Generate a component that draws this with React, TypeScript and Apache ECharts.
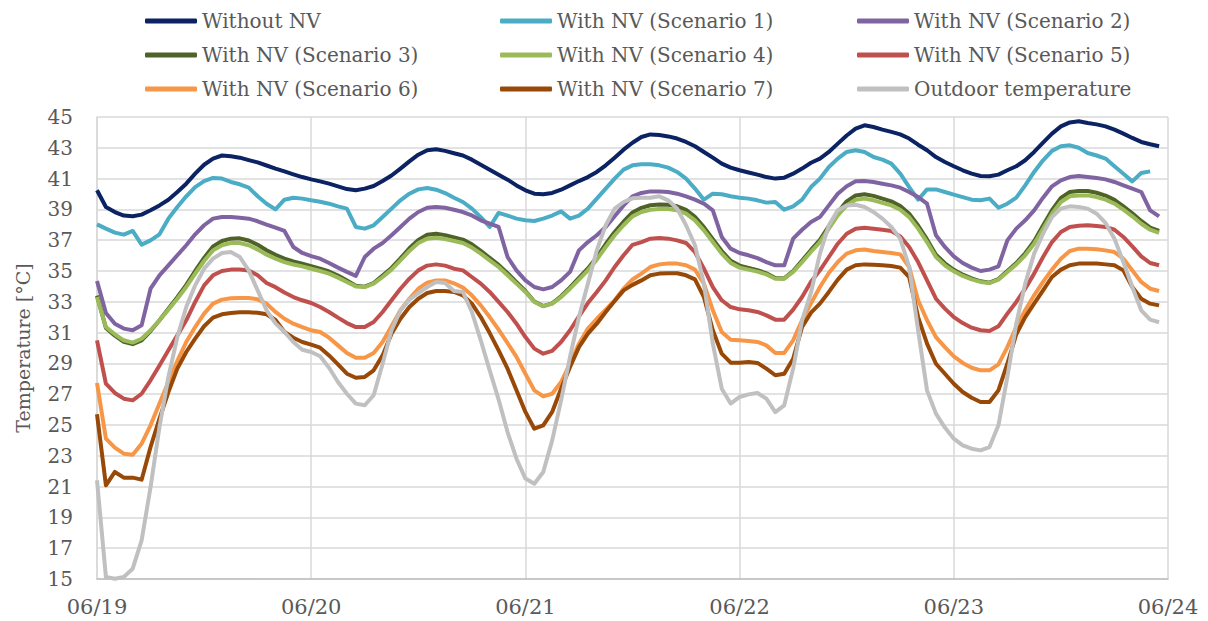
import React, { useEffect, useRef } from "react";
import * as echarts from "echarts";

const dayLabels = ["06/19", "06/20", "06/21", "06/22", "06/23", "06/24"];
const yTicks = { min: 15, max: 45, step: 2 };

const withoutNV = [
  40.24, 39.16, 38.83, 38.6, 38.55, 38.66, 38.94, 39.26, 39.63, 40.13, 40.67, 41.32, 41.9, 42.3, 42.5, 42.45, 42.36, 42.2, 42.05, 41.85, 41.65,
  41.47, 41.28, 41.1, 40.95, 40.82, 40.67, 40.5, 40.32, 40.24, 40.35, 40.52, 40.84, 41.2, 41.65, 42.12, 42.55, 42.84, 42.9, 42.8, 42.65,
  42.5, 42.23, 41.9, 41.58, 41.25, 40.93, 40.56, 40.24, 40.02, 39.98, 40.07, 40.28, 40.56, 40.84, 41.1, 41.43, 41.86, 42.36, 42.88, 43.33,
  43.7, 43.87, 43.83, 43.74, 43.6, 43.38, 43.1, 42.73, 42.36, 41.97, 41.71, 41.54, 41.4, 41.26, 41.1, 41.0, 41.06, 41.32, 41.65, 42.03,
  42.3, 42.73, 43.27, 43.8, 44.24, 44.46, 44.35, 44.18, 44.03, 43.87, 43.6, 43.2, 42.84, 42.4, 42.08, 41.8, 41.54, 41.32, 41.17, 41.15,
  41.26, 41.54, 41.8, 42.19, 42.73, 43.33, 43.92, 44.39, 44.65, 44.72, 44.61, 44.52, 44.39, 44.18, 43.92, 43.64, 43.38, 43.23, 43.1,
];
const scenario1 = [
  38.03, 37.75, 37.49, 37.36, 37.6, 36.71, 36.99, 37.38, 38.4, 39.16, 39.85, 40.45, 40.84, 41.04, 41.0, 40.78, 40.63, 40.41, 39.85, 39.37, 39.0,
  39.63, 39.76, 39.7, 39.59, 39.5, 39.37, 39.2, 39.05, 37.86, 37.75, 37.97, 38.5, 39.05, 39.59, 40.02, 40.3, 40.39, 40.28, 40.06, 39.76,
  39.48, 39.05, 38.5, 37.86, 38.77, 38.6, 38.4, 38.3, 38.25, 38.4, 38.6, 38.87, 38.4, 38.6, 39.05, 39.7, 40.35, 41.0, 41.58, 41.86,
  41.93, 41.93, 41.86, 41.71, 41.43, 41.0, 40.35, 39.63, 40.02, 39.98, 39.85, 39.76, 39.7, 39.59, 39.44, 39.48, 38.98, 39.2, 39.63, 40.45,
  41.0, 41.75, 42.3, 42.73, 42.84, 42.73, 42.4, 42.23, 41.97, 41.32, 40.45, 39.63, 40.3, 40.3, 40.13, 39.96, 39.8, 39.63, 39.59, 39.7,
  39.11, 39.37, 39.76, 40.56, 41.43, 42.19, 42.8, 43.1, 43.16, 43.0, 42.66, 42.5, 42.3, 41.8, 41.32, 40.82, 41.36, 41.47, null,
];
const scenario2 = [
  34.35, 32.27, 31.58, 31.26, 31.15, 31.47, 33.85, 34.72, 35.37, 36.02, 36.67, 37.38, 37.97, 38.4, 38.51, 38.51, 38.46, 38.4, 38.23, 38.01, 37.81,
  37.6, 36.56, 36.17, 35.97, 35.8, 35.52, 35.22, 34.94, 34.68, 35.91, 36.45, 36.82, 37.32, 37.86, 38.4, 38.83, 39.11, 39.16, 39.11, 38.98,
  38.83, 38.61, 38.29, 38.07, 37.86, 35.91, 35.04, 34.39, 33.96, 33.81, 33.96, 34.39, 34.94, 36.34, 36.88, 37.32, 37.86, 38.55, 39.26, 39.85,
  40.07, 40.17, 40.17, 40.13, 40.02, 39.85, 39.63, 39.37, 38.94, 37.21, 36.45, 36.17, 36.02, 35.84, 35.58, 35.37, 35.37, 37.1, 37.68, 38.18,
  38.5, 39.26, 40.02, 40.5, 40.82, 40.84, 40.78, 40.67, 40.56, 40.41, 40.13, 39.8, 39.37, 37.32, 36.56, 35.95, 35.52, 35.22, 35.0, 35.09,
  35.3, 36.99, 37.75, 38.29, 38.94, 39.76, 40.5, 40.89, 41.1, 41.17, 41.1, 41.04, 40.95, 40.78, 40.56, 40.35, 40.13, 38.94, 38.55,
];
const scenario3 = [
  33.4, 31.3, 30.8, 30.4, 30.25, 30.5, 31.1, 31.8, 32.55, 33.3, 34.1, 35.0, 35.85, 36.6, 36.95, 37.1, 37.12, 36.98, 36.7, 36.35, 36.05,
  35.8, 35.62, 35.48, 35.32, 35.15, 34.97, 34.7, 34.38, 34.05, 33.98, 34.22, 34.7, 35.2, 35.82, 36.48, 37.02, 37.35, 37.42, 37.33, 37.18,
  37.04, 36.73, 36.3, 35.85, 35.4, 34.85, 34.28, 33.7, 33.02, 32.72, 32.9, 33.36, 33.93, 34.55, 35.17, 35.9, 36.75, 37.53, 38.2, 38.8,
  39.1, 39.27, 39.32, 39.3, 39.2, 38.97, 38.52, 37.85, 37.07, 36.3, 35.66, 35.35, 35.2, 35.05, 34.85, 34.55, 34.52, 35.0, 35.67, 36.37,
  37.02, 37.92, 38.82, 39.52, 39.9, 39.98, 39.88, 39.7, 39.52, 39.22, 38.72, 37.95, 37.05, 36.06, 35.5, 35.08, 34.76, 34.52, 34.33, 34.24,
  34.48, 35.0, 35.52, 36.15, 36.93, 37.95, 38.95, 39.75, 40.13, 40.2, 40.2, 40.08, 39.9, 39.62, 39.2, 38.75, 38.25, 37.82, 37.6,
];
const scenario4 = [
  33.31, 31.36, 30.89, 30.5, 30.35, 30.6, 31.15, 31.8, 32.49, 33.2, 33.96, 34.83, 35.65, 36.34, 36.67, 36.82, 36.82, 36.67, 36.39, 36.06, 35.8,
  35.58, 35.42, 35.3, 35.15, 35.0, 34.83, 34.57, 34.29, 34.0, 33.96, 34.18, 34.61, 35.09, 35.69, 36.3, 36.82, 37.1, 37.16, 37.08, 36.95,
  36.82, 36.52, 36.13, 35.69, 35.26, 34.72, 34.18, 33.64, 32.99, 32.71, 32.88, 33.31, 33.85, 34.44, 35.04, 35.74, 36.56, 37.32, 37.97, 38.55,
  38.83, 38.98, 39.03, 39.03, 38.94, 38.72, 38.29, 37.64, 36.88, 36.13, 35.52, 35.22, 35.09, 34.96, 34.78, 34.5, 34.5, 34.94, 35.58, 36.25,
  36.88, 37.75, 38.61, 39.26, 39.63, 39.7, 39.59, 39.42, 39.26, 38.98, 38.5, 37.75, 36.88, 35.91, 35.37, 34.98, 34.68, 34.46, 34.29, 34.22,
  34.44, 34.94, 35.43, 36.02, 36.77, 37.75, 38.72, 39.48, 39.85, 39.91, 39.91, 39.8, 39.63, 39.37, 38.98, 38.55, 38.07, 37.68, 37.47,
];
const scenario5 = [
  30.5, 27.68, 27.08, 26.71, 26.6, 27.03, 27.9, 28.87, 29.85, 30.82, 31.8, 32.99, 34.07, 34.72, 35.0, 35.09, 35.09, 35.04, 34.72, 34.22, 33.95,
  33.6, 33.31, 33.1, 32.92, 32.66, 32.34, 31.97, 31.62, 31.36, 31.36, 31.69, 32.34, 33.1, 33.85, 34.5, 35.04, 35.35, 35.43, 35.35, 35.15,
  35.04, 34.61, 34.18, 33.64, 32.99, 32.34, 31.58, 30.71, 29.96, 29.63, 29.81, 30.39, 31.15, 32.06, 32.92, 33.64, 34.39, 35.26, 36.02, 36.7,
  36.88, 37.1, 37.14, 37.1, 36.99, 36.82, 36.23, 35.15, 33.96, 33.1, 32.66, 32.51, 32.45, 32.34, 32.12, 31.84, 31.84, 32.49, 33.31, 34.3,
  35.04, 35.91, 36.77, 37.42, 37.75, 37.81, 37.75, 37.68, 37.6, 37.25, 36.56, 35.58, 34.39, 33.2, 32.56, 32.01, 31.62, 31.32, 31.15, 31.1,
  31.41, 32.23, 32.99, 33.85, 34.83, 35.91, 36.88, 37.53, 37.86, 37.94, 37.97, 37.92, 37.86, 37.68, 37.21, 36.6, 35.95, 35.52, 35.37,
];
const scenario6 = [
  27.73, 24.11, 23.53, 23.14, 23.07, 23.79, 24.98, 26.39, 27.79, 29.16, 30.39, 31.36, 32.23, 32.88, 33.14, 33.23, 33.25, 33.25, 33.16, 32.88, 32.34,
  31.9, 31.58, 31.36, 31.15, 31.04, 30.67, 30.17, 29.68, 29.37, 29.37, 29.68, 30.39, 31.41, 32.45, 33.2, 33.85, 34.24, 34.39, 34.39, 34.2,
  33.92, 33.42, 32.77, 32.01, 31.19, 30.32, 29.42, 28.33, 27.25, 26.86, 27.03, 27.79, 28.98, 30.28, 31.26, 31.9, 32.49, 33.1, 33.85, 34.45,
  34.83, 35.26, 35.43, 35.48, 35.48, 35.37, 35.09, 34.18, 32.45, 31.04, 30.54, 30.5, 30.45, 30.39, 30.17, 29.68, 29.68, 30.5, 31.8, 32.9,
  33.96, 34.87, 35.58, 36.13, 36.34, 36.39, 36.3, 36.23, 36.17, 36.08, 35.26, 33.1, 31.8, 30.71, 30.06, 29.46, 29.03, 28.72, 28.55, 28.55,
  28.94, 30.06, 31.36, 32.45, 33.42, 34.29, 35.09, 35.8, 36.3, 36.45, 36.45, 36.41, 36.34, 36.23, 35.8, 35.04, 34.29, 33.85, 33.7,
];
const scenario7 = [
  25.69, 21.08, 21.95, 21.58, 21.58, 21.45, 23.57, 25.41, 27.14, 28.66, 29.74, 30.61, 31.41, 31.97, 32.19, 32.27, 32.32, 32.32, 32.29, 32.19, 31.82,
  31.04, 30.67, 30.39, 30.22, 30.02, 29.52, 28.94, 28.33, 28.07, 28.12, 28.55, 29.52, 30.93, 31.9, 32.66, 33.2, 33.57, 33.7, 33.7, 33.64,
  33.42, 32.88, 32.01, 30.97, 29.85, 28.66, 27.25, 25.85, 24.76, 24.98, 25.85, 27.36, 28.77, 30.06, 30.93, 31.58, 32.34, 33.05, 33.74, 34.1,
  34.39, 34.72, 34.83, 34.85, 34.85, 34.72, 34.46, 33.31, 31.15, 29.63, 29.05, 29.05, 29.09, 29.03, 28.66, 28.23, 28.33, 29.3, 31.36, 32.3,
  32.88, 33.64, 34.44, 35.09, 35.37, 35.43, 35.41, 35.37, 35.32, 35.22, 34.61, 32.01, 30.28, 28.98, 28.33, 27.68, 27.14, 26.77, 26.49, 26.49,
  27.25, 28.98, 30.89, 32.01, 32.88, 33.74, 34.61, 35.09, 35.37, 35.48, 35.48, 35.48, 35.43, 35.37, 35.04, 33.96, 33.2, 32.88, 32.77,
];
const outdoor = [
  21.41, 15.13, 15.02, 15.13, 15.67, 17.51, 20.97, 24.87, 28.12, 30.71, 32.66, 34.07, 35.15, 35.8, 36.17, 36.23, 35.91, 35.04, 33.74, 32.45, 31.6,
  31.04, 30.39, 29.89, 29.74, 29.46, 28.72, 27.79, 27.03, 26.39, 26.28, 26.93, 28.98, 31.15, 32.45, 33.14, 33.57, 33.96, 34.29, 34.22, 33.7,
  33.64, 32.34, 30.5, 28.55, 26.65, 24.54, 22.81, 21.52, 21.19, 21.95, 24.0, 26.6, 29.42, 32.01, 34.18, 36.34, 37.97, 39.05, 39.48, 39.72,
  39.76, 39.76, 39.85, 39.59, 39.05, 37.97, 36.67, 34.18, 30.28, 27.36, 26.39, 26.82, 26.99, 27.08, 26.71, 25.84, 26.28, 28.66, 31.8, 33.6,
  36.13, 37.97, 38.94, 39.26, 39.3, 39.16, 38.83, 38.4, 37.86, 37.1, 35.26, 31.15, 27.25, 25.74, 24.83, 24.11, 23.68, 23.46, 23.35, 23.57,
  24.98, 28.12, 31.58, 34.18, 36.13, 37.43, 38.5, 39.05, 39.2, 39.16, 39.05, 38.72, 38.12, 37.1, 35.58, 33.96, 32.45, 31.84, 31.67,
];

const seriesNames = [
  "Without NV",
  "With NV (Scenario 1)",
  "With NV (Scenario 2)",
  "With NV (Scenario 3)",
  "With NV (Scenario 4)",
  "With NV (Scenario 5)",
  "With NV (Scenario 6)",
  "With NV (Scenario 7)",
  "Outdoor temperature",
];
const seriesValues = [withoutNV, scenario1, scenario2, scenario3, scenario4, scenario5, scenario6, scenario7, outdoor];
const seriesColors = ["#0b2263", "#4bacc6", "#8064a2", "#4f6228", "#9bbb59", "#c0504d", "#f79646", "#984807", "#c0c0c0"];

const FONT = "DejaVu Serif";
const TEXT_COLOR = "#595959";
const GRID_COLOR = "#d9d9d9";

export default function App() {
  const ref = useRef<HTMLDivElement>(null);
  useEffect(() => {
    if (!ref.current) return;
    const chart = echarts.init(ref.current, undefined, { renderer: "svg" });
    const colX = [145, 500, 857];
    const rowY = [20, 54, 88];
    const legends = seriesNames.map((name, i) => ({
      data: [name],
      left: colX[i % 3],
      top: rowY[Math.floor(i / 3)] - 9,
      icon: "roundRect",
      itemWidth: 52,
      itemHeight: 5,
      padding: 0,
      textStyle: { fontFamily: FONT, fontSize: 20, color: TEXT_COLOR },
    }));
    chart.setOption({
      animation: false,
      backgroundColor: "#ffffff",
      legend: legends,
      grid: { left: 97, right: 40, top: 117, bottom: 42, containLabel: false },
      xAxis: {
        type: "value",
        min: 0,
        max: 120,
        interval: 24,
        axisLine: { show: true, lineStyle: { color: "#bfbfbf", width: 1.5 } },
        axisTick: { show: false },
        splitLine: { show: true, lineStyle: { color: GRID_COLOR, width: 1.5 } },
        axisLabel: {
          fontFamily: FONT,
          fontSize: 21,
          color: TEXT_COLOR,
          margin: 17,
          formatter: (v: number) => dayLabels[Math.round(v / 24)] ?? "",
        },
      },
      yAxis: {
        type: "value",
        min: yTicks.min,
        max: yTicks.max,
        interval: yTicks.step,
        name: "Temperature [°C]",
        nameLocation: "middle",
        nameRotate: 90,
        nameGap: 65,
        nameTextStyle: { fontFamily: FONT, fontSize: 19, color: TEXT_COLOR },
        axisLine: { show: true, lineStyle: { color: GRID_COLOR, width: 1.5 } },
        axisTick: { show: false },
        splitLine: { show: true, lineStyle: { color: GRID_COLOR, width: 1.5 } },
        axisLabel: { fontFamily: FONT, fontSize: 20, color: TEXT_COLOR, margin: 24 },
      },
      series: seriesNames.map((name, i) => ({
        name,
        type: "line",
        showSymbol: false,
        symbol: "none",
        color: seriesColors[i],
        lineStyle: { color: seriesColors[i], width: 4, join: "round" },
        data: seriesValues[i].map((v, h) => [h, v]),
      })),
    });
    return () => chart.dispose();
  }, []);
  return <div ref={ref} style={{ position: "fixed", left: 0, top: 0, width: 1208, height: 621 }} />;
}
